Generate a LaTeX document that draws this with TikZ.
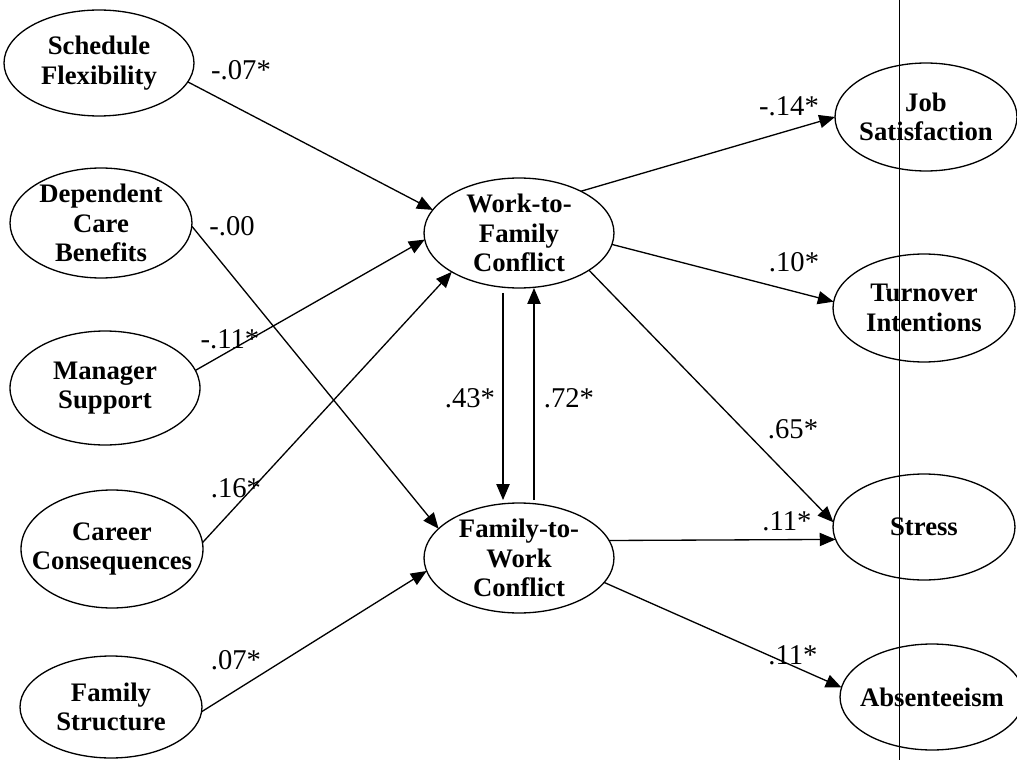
\documentclass[tikz,border=0pt]{standalone}
\usepackage{fontspec}
\setmainfont{Liberation Serif}
\usetikzlibrary{arrows.meta,shapes.geometric}
\begin{document}
\begin{tikzpicture}[x=0.02cm,y=-0.02cm,
 ell/.style={draw, ellipse, inner sep=0pt, outer sep=0pt, line width=0.75pt},
 lbl/.style={font=\fontsize{15.2}{16.8}\selectfont\bfseries, align=center, inner sep=0pt},
 coef/.style={font=\fontsize{16.3}{18}\selectfont, inner sep=0pt},
 arr/.style={line width=0.75pt, -{Triangle[length=9pt,width=7.5pt]}}]
\useasboundingbox (0,0) rectangle (1017,760);

% left ellipses
\node[ell, minimum width=3.8cm, minimum height=2.12cm, label={[lbl]center:{Schedule\\Flexibility}}] (sf) at (99,63) {};
\node[ell, minimum width=3.64cm, minimum height=2.2cm, label={[lbl]center:{Dependent\\Care\\Benefits}}] (dcb) at (101,223) {};
\node[ell, minimum width=3.8cm, minimum height=2.28cm, label={[lbl]center:{Manager\\Support}}] (ms) at (105,388) {};
\node[ell, minimum width=3.64cm, minimum height=2.36cm, label={[lbl]center:{Career\\Consequences}}] (cc) at (112,549) {};
\node[ell, minimum width=3.64cm, minimum height=2.04cm, label={[lbl]center:{Family\\Structure}}] (fs) at (111,707) {};

% middle ellipses
\node[ell, minimum width=3.8cm, minimum height=2.2cm, label={[lbl]center:{Work-to-\\Family\\Conflict}}] (wfc) at (519,233) {};
\node[ell, minimum width=3.8cm, minimum height=2.2cm, label={[lbl]center:{Family-to-\\Work\\Conflict}}] (fwc) at (519,558) {};

% right ellipses
\node[ell, minimum width=3.64cm, minimum height=2.16cm, label={[lbl]center:{Job\\Satisfaction}}] (js) at (926,117) {};
\node[ell, minimum width=3.64cm, minimum height=2.16cm, label={[lbl]center:{Turnover\\Intentions}}] (ti) at (924,308) {};
\node[ell, minimum width=3.64cm, minimum height=2.12cm, label={[lbl]center:{Stress}}] (st) at (924,527) {};
\node[ell, minimum width=3.68cm, minimum height=2.12cm, label={[lbl]center:{Absenteeism}}] (ab) at (932,697) {};

% vertical scan line
\draw[line width=0.5pt] (899,0) -- (899,760);

% arrows into conflicts
\draw[arr] (sf.-12) -- (wfc.165);
\draw[arr] (dcb.-2) -- (fwc.160);
\draw[arr] (ms.11) -- (wfc.184);
\draw[arr] (cc.4) -- (wfc.210);
\draw[arr] (fs.-3) -- (fwc.188);

% reciprocal arrows
\draw[arr] ([xshift=-0.32cm,yshift=-0.1cm]wfc.south) -- ([xshift=-0.32cm,yshift=0.06cm]fwc.north);
\draw[arr] ([xshift=0.3cm,yshift=0.06cm]fwc.north) -- ([xshift=0.3cm]wfc.south);

% arrows to outcomes
\draw[arr] (wfc.34) -- (js.180);
\draw[arr] (wfc.-7) -- (ti.176);
\draw[arr] (wfc.-28) -- (st.177);
\draw[arr] (fwc.11) -- (st.188);
\draw[arr] (fwc.-16) -- (ab.174);

% coefficients
\node[coef] (c1) at (241,70) {-.07*};
\node[coef] (c2) at (232,226) {-.00};
\node[coef] (c3) at (230,339) {-.11*};
\node[coef] (c4) at (236,488) {.16*};
\node[coef] (c5) at (236,660) {.07*};
\node[coef] (c6) at (470,398) {.43*};
\node[coef] (c7) at (569,398) {.72*};
\node[coef] (c8) at (789,106) {-.14*};
\node[coef] (c9) at (794,262) {.10*};
\node[coef] (c10) at (793,429) {.65*};
\node[coef] (c11) at (787,521) {.11*};
\node[coef] (c12) at (793,655) {.11*};
\end{tikzpicture}
\end{document}
